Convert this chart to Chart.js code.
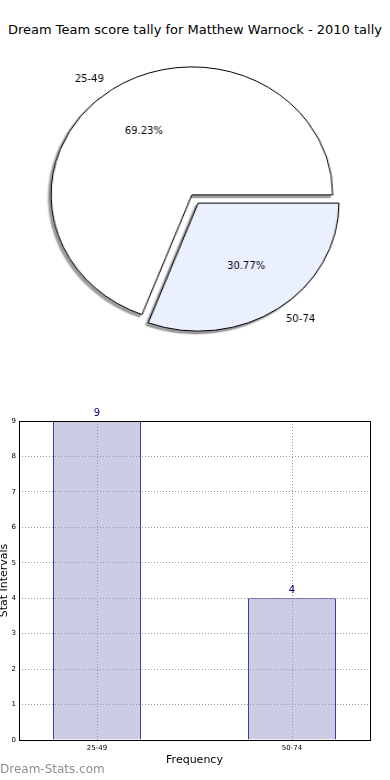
<!DOCTYPE html>
<html>
<head>
<meta charset="utf-8">
<script src="https://cdn.jsdelivr.net/npm/chart.js@4.4.1/dist/chart.umd.min.js"></script>
<style>
  body { margin: 0; width: 390px; height: 780px; background: #fff; position: relative; overflow: hidden; font-family: 'DejaVu Sans', sans-serif; }
  #title { position: absolute; left: 0; top: 22px; width: 390px; height: 16px; line-height: 16px; text-align: center; font-size: 13px; color: #000; }
  #pieWrap { position: absolute; left: 44.5px; top: 49px; width: 300px; height: 300px; transform: scaleX(1.1); transform-origin: 150px 150px; }
  #bar { position: absolute; left: 0; top: 400px; }
  #mark { position: absolute; left: 0; top: 762px; font-size: 12px; color: #8f8f8f; }
</style>
</head>
<body>
<div id="title">Dream Team score tally for Matthew Warnock - 2010 tally</div>
<div id="pieWrap"><canvas id="pie" width="300" height="300"></canvas></div>
<canvas id="bar" width="390" height="380"></canvas>
<div id="mark">Dream-Stats.com</div>
<script>
// data
const categories = ['25-49', '50-74'];
const values = [9, 4];
const yTicks = [0, 1, 2, 3, 4, 5, 6, 7, 8, 9];

const total = values.reduce((a, b) => a + b, 0);
const percents = values.map(v => (v / total * 100).toFixed(2) + '%');

Chart.defaults.font.family = "'DejaVu Sans', sans-serif";
Chart.defaults.color = '#000';

// pie: wedges pushed out from the centre, matplotlib-like shadow, labels outside
const STRETCH = 1.1;   // the pie is an ellipse in the original
const EXPLODE = 5;

const pieDecor = {
  id: 'pieDecor',
  beforeDatasetsDraw(chart) {
    const ctx = chart.ctx;
    const arcs = chart.getDatasetMeta(0).data;
    // shadows first: shape drawn off canvas, only its shadow lands
    arcs.forEach(arc => {
      const mid = (arc.startAngle + arc.endAngle) / 2;
      ctx.save();
      ctx.translate(Math.cos(mid) * EXPLODE - 1000, Math.sin(mid) * EXPLODE);
      ctx.shadowColor = 'rgba(0,0,0,0.38)';
      ctx.shadowOffsetX = 1000 - 2.3;
      ctx.shadowOffsetY = 2.5;
      ctx.shadowBlur = 1.5;
      arc.draw(ctx);
      ctx.restore();
    });
    arcs.forEach(arc => {
      const mid = (arc.startAngle + arc.endAngle) / 2;
      ctx.save();
      ctx.translate(Math.cos(mid) * EXPLODE, Math.sin(mid) * EXPLODE);
      arc.draw(ctx);
      ctx.restore();
    });
    return false;
  },
  afterDraw(chart) {
    const ctx = chart.ctx;
    const arcs = chart.getDatasetMeta(0).data;
    const text = (t, x, y, align) => {
      ctx.save();
      ctx.translate(x, y);
      ctx.scale(1 / STRETCH, 1);
      ctx.font = "10px 'DejaVu Sans'";
      ctx.fillStyle = '#000';
      ctx.textAlign = align;
      ctx.textBaseline = 'middle';
      ctx.fillText(t, 0, 0);
      ctx.restore();
    };
    arcs.forEach((arc, i) => {
      const mid = (arc.startAngle + arc.endAngle) / 2;
      const c = Math.cos(mid), s = Math.sin(mid);
      const cx = arc.x + c * EXPLODE, cy = arc.y + s * EXPLODE;
      const r = arc.outerRadius;
      text(categories[i], cx + c * r * 1.1, cy + s * r * 1.1, c < 0 ? 'right' : 'left');
      text(percents[i], cx + c * r * 0.6, cy + s * r * 0.6, 'center');
    });
  }
};

new Chart(document.getElementById('pie'), {
  type: 'pie',
  data: {
    labels: categories,
    datasets: [{
      data: values,
      backgroundColor: ['#ffffff', '#eaf0fd'],
      borderColor: '#000',
      borderWidth: 1
    }]
  },
  options: {
    responsive: false,
    animation: false,
    events: [],
    radius: 128,
    // matplotlib starts at 3 o'clock going anticlockwise
    rotation: 90 + 360 * values[1] / total,
    plugins: { legend: { display: false }, tooltip: { enabled: false } }
  },
  plugins: [pieDecor]
});

// bar chart
const barDecor = {
  id: 'barDecor',
  afterDraw(chart) {
    const ctx = chart.ctx;
    const a = chart.chartArea;
    ctx.save();
    ctx.strokeStyle = '#000';
    ctx.lineWidth = 1;
    ctx.strokeRect(Math.round(a.left) + 0.5, Math.round(a.top) + 0.5, Math.round(a.right - a.left), Math.round(a.bottom - a.top));
    ctx.font = "10px 'DejaVu Sans'";
    ctx.fillStyle = '#000080';
    ctx.textAlign = 'center';
    ctx.textBaseline = 'alphabetic';
    chart.getDatasetMeta(0).data.forEach((bar, i) => {
      ctx.fillText(String(values[i]), bar.x, bar.y - 5);
    });
    ctx.restore();
  }
};

new Chart(document.getElementById('bar'), {
  type: 'bar',
  data: {
    datasets: [{
      data: categories.map((c, i) => ({ x: i, y: values[i] })),
      backgroundColor: '#ccccE5',
      borderColor: '#00008b',
      borderWidth: 1,
      barPercentage: 0.45,
      categoryPercentage: 1
    }]
  },
  options: {
    responsive: false,
    animation: false,
    events: [],
    layout: { padding: { top: 21, right: 20, left: 0, bottom: 0 } },
    plugins: { legend: { display: false }, tooltip: { enabled: false } },
    scales: {
      x: {
        type: 'linear',
        min: -0.4,
        max: 1.4,
        offset: false,
        afterBuildTicks: s => { s.ticks = categories.map((c, i) => ({ value: i })); },
        afterFit: s => { s.height = 40; },
        grid: { offset: false, color: '#999', drawTicks: false, z: 1 },
        border: { display: false, dash: [1, 2] },
        ticks: { callback: v => categories[v], font: { size: 7 }, padding: 4, maxRotation: 0, autoSkip: false },
        title: { display: true, text: 'Frequency', font: { size: 11, lineHeight: 1 }, padding: { top: 0, bottom: 14 } }
      },
      y: {
        min: yTicks[0],
        max: yTicks[yTicks.length - 1],
        afterBuildTicks: s => { s.ticks = yTicks.map(v => ({ value: v })); },
        afterFit: s => { s.width = 19; },
        grid: { color: '#999', drawTicks: false, z: 1 },
        border: { display: false, dash: [1, 2] },
        ticks: { font: { size: 7 }, padding: 3 },
        title: { display: true, text: 'Stat Intervals', font: { size: 11, lineHeight: 1 }, padding: { top: -1, bottom: 0 } }
      }
    }
  },
  plugins: [barDecor]
});
</script>
</body>
</html>
